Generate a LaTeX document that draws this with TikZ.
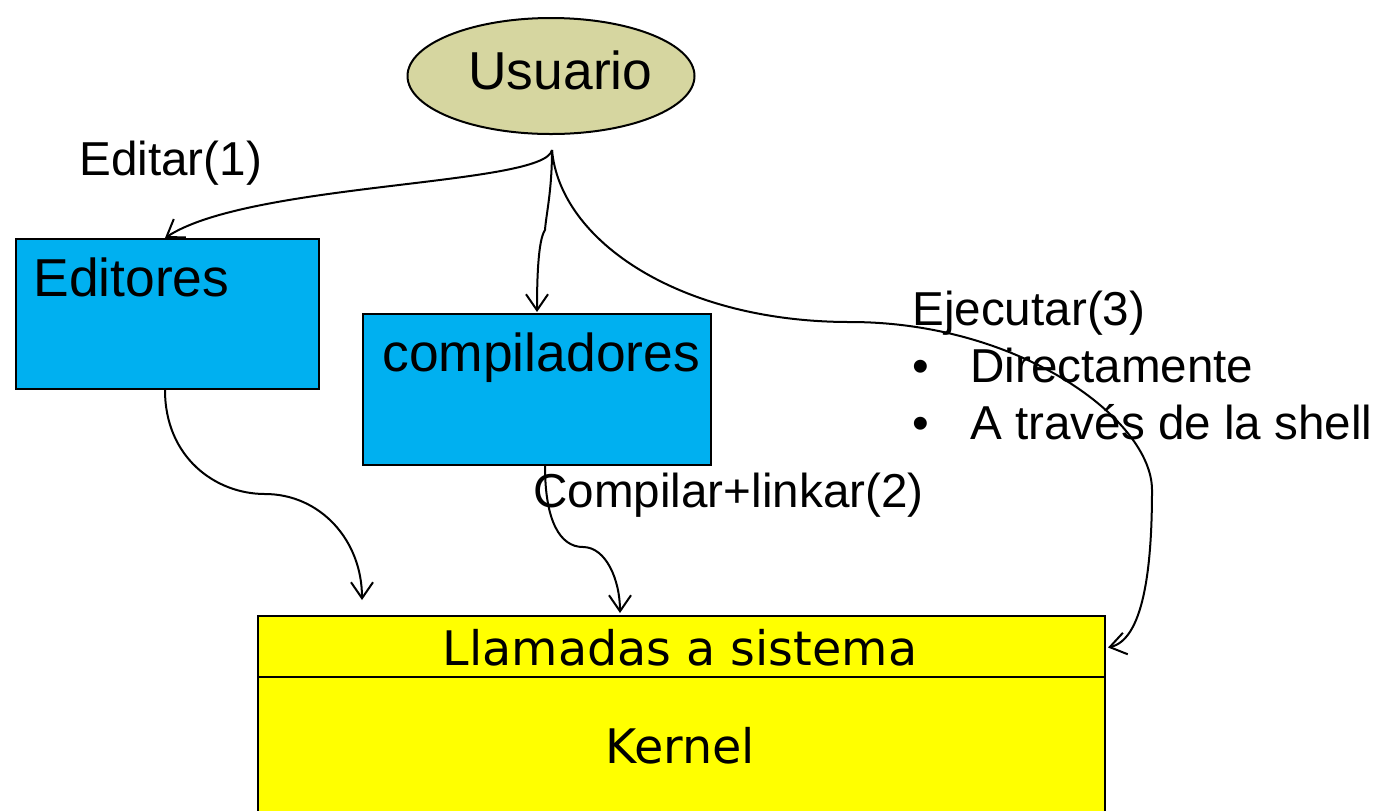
\documentclass[tikz,border=0pt]{standalone}
\usepackage{fontspec}
\setmainfont{Liberation Sans}
\newfontfamily\kfont{DejaVu Sans}
\usetikzlibrary{shapes.geometric,arrows.meta}
\definecolor{usr}{RGB}{214,214,160}
\definecolor{blu}{RGB}{0,176,240}
\definecolor{yel}{RGB}{255,255,0}
\begin{document}
\begin{tikzpicture}[x=0.5pt,y=-0.5pt,
 box/.style={draw=black, line width=1pt, anchor=north west, inner sep=0pt},
 lbl/.style={anchor=base west, inner sep=0pt, font=\fontsize{23.8}{28}\selectfont},
 btxt/.style={anchor=base west, inner sep=0pt, font=\fontsize{26.7}{31}\selectfont},
 ktxt/.style={anchor=base, inner sep=0pt, font=\kfont\fontsize{23.8}{28}\selectfont},
 conn/.style={-{Straight Barb[length=8pt,width=11pt]}, line width=1pt}]
\useasboundingbox (0,0) rectangle (1380,810);
% nodes
\node[ellipse, draw=black, line width=1pt, fill=usr, minimum width=143.5pt, minimum height=58pt, inner sep=0pt] (us) at (551,76) {};
\node[btxt] (ust) at (468,89) {Usuario};
\node[box, fill=blu, minimum width=151.5pt, minimum height=75pt] (ed) at (15,238) {};
\node[btxt] (edt) at (33,296) {Editores};
\node[box, fill=blu, minimum width=174pt, minimum height=75.5pt] (comp) at (362,313) {};
\node[btxt] (compt) at (382,371) {compiladores};
\node[box, fill=yel, minimum width=423.5pt, minimum height=30.5pt] (sys) at (257,615) {};
\node[box, fill=yel, minimum width=423.5pt, minimum height=75pt] (ker) at (257,676) {};
\node[ktxt] (syst) at (680,665) {Llamadas a sistema};
\node[ktxt] (kert) at (680,763) {Kernel};
% labels
\node[lbl] (l1) at (79,175) {Editar(1)};
\node[lbl] (l3) at (912,325) {Ejecutar(3)};
\node[lbl] (b1) at (912,382) {•};
\node[lbl] (d1) at (970,382) {Directamente};
\node[lbl] (b2) at (912,439) {•};
\node[lbl] (d2) at (970,439) {A través de la shell};
\node[lbl] (l2) at (533,507) {Compilar+linkar(2)};
% connection points
\coordinate (u0) at ([xshift=0.5pt,yshift=-7.5pt]us.south);
\coordinate (edin) at ([xshift=75pt]ed.north west);
\coordinate (edout) at ([xshift=75pt]ed.south west);
\coordinate (compin) at ([xshift=87.5pt,yshift=0.5pt]comp.north west);
\coordinate (compout) at ([xshift=91.5pt]comp.south west);
\coordinate (k1) at ([xshift=52.5pt,yshift=7.5pt]sys.north west);
\coordinate (k2) at ([xshift=181.5pt,yshift=1pt]sys.north west);
\coordinate (k3) at ([xshift=1pt,yshift=-0.5pt]sys.east);
% connectors
\draw[conn] (u0) .. controls +(-7,36) and +(85,-56) .. (edin);
\draw[conn] (u0) .. controls +(0,41) and +(1,-15) .. (545,230) .. controls +(-7,10) and +(0,-32) .. (compin);
\draw[conn] (u0) .. controls +(8,91) and +(-170,0) .. (850,322) .. controls +(170,0) and +(0,-70) .. (1152,490) .. controls +(0,80) and +(35,-8) .. (k3);
\draw[conn] (edout) .. controls +(0,67) and +(-50,0) .. (265,494) .. controls +(55,0) and +(0,-60) .. (k1);
\draw[conn] (compout) .. controls +(0,55) and +(-23,0) .. (583,547) .. controls +(23,0) and +(0,-33) .. (k2);
\end{tikzpicture}
\end{document}
